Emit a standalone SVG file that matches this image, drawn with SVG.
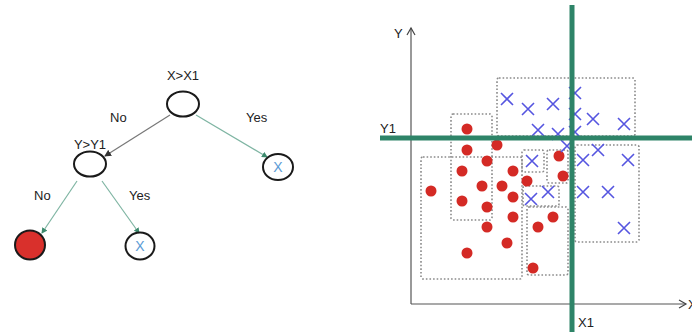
<svg xmlns="http://www.w3.org/2000/svg" width="692" height="332" viewBox="0 0 692 332">
<style>
text{font-family:"Liberation Sans",Arial,sans-serif;fill:#222}
.lbl{font-size:13px}
.node{fill:#fff;stroke:#1a1a1a;stroke-width:2}
.xin{font-size:14px;fill:#5b9bd5;text-anchor:middle}
.edge{fill:none;stroke:#7fb5a3;stroke-width:1.2}
.box{fill:none;stroke:#8a8a8a;stroke-width:1.6;stroke-dasharray:1.6 2}
.dot{fill:#d42a25}
.cross{stroke:#5555e0;stroke-width:1.6;fill:none}
.split{stroke:#2e8468;stroke-width:5}
.axis{stroke:#555;stroke-width:1.2;fill:none}
</style>
<defs>
<marker id="ag" markerWidth="6" markerHeight="6" refX="5" refY="3" orient="auto" markerUnits="userSpaceOnUse">
<path d="M0,0 L6,3 L0,6 z" fill="#3d8a6e"/>
</marker>
<marker id="ak" markerWidth="7" markerHeight="7" refX="6" refY="3.5" orient="auto" markerUnits="userSpaceOnUse">
<path d="M0,0 L7,3.5 L0,7 z" fill="#333"/>
</marker>
<marker id="ax" markerWidth="10" markerHeight="10" refX="8" refY="5" orient="auto" markerUnits="userSpaceOnUse">
<path d="M1,1 L8,5 L1,9" fill="none" stroke="#444" stroke-width="1.2"/>
</marker>
<g id="xm"><path d="M-6,-6 L6,6 M-6,6 L6,-6"/></g>
</defs>

<g id="connectors">
<line x1="170" y1="115" x2="105" y2="156" stroke="#777" stroke-width="1.2" marker-end="url(#ak)"/>
<line class="edge" x1="196" y1="115" x2="267" y2="157" marker-end="url(#ag)"/>
<line class="edge" x1="77" y1="181" x2="42" y2="233" marker-end="url(#ag)"/>
<line class="edge" x1="102" y1="181" x2="139" y2="233" marker-end="url(#ag)"/>
</g>
<text class="lbl" x="110" y="122">No</text>
<text class="lbl" x="246" y="122">Yes</text>
<text class="lbl" x="34" y="200">No</text>
<text class="lbl" x="129" y="200">Yes</text>

<g id="root">
<ellipse class="node" cx="183" cy="104" rx="16" ry="12.5"/>
<text class="lbl" x="183" y="80" text-anchor="middle">X&gt;X1</text>
</g>
<g id="n-y">
<ellipse class="node" cx="90" cy="164" rx="16" ry="12.5"/>
<text class="lbl" x="90" y="149" text-anchor="middle">Y&gt;Y1</text>
</g>
<g id="leaf-x1">
<ellipse class="node" cx="278" cy="167" rx="15" ry="13"/>
<text class="xin" x="278" y="172">X</text>
</g>
<g id="leaf-red">
<ellipse cx="30" cy="245" rx="15" ry="14.5" fill="#d9302c" stroke="#1a1a1a" stroke-width="2"/>
</g>
<g id="leaf-x2">
<ellipse class="node" cx="140" cy="246" rx="14.5" ry="13.5"/>
<text class="xin" x="140" y="251">X</text>
</g>

<g id="plot">
<line class="axis" x1="411" y1="304" x2="411" y2="28" marker-end="url(#ax)"/>
<line class="axis" x1="411" y1="304" x2="686" y2="304" marker-end="url(#ax)"/>
<text class="lbl" x="394" y="38">Y</text>
<text class="lbl" x="688" y="309">X</text>

<rect class="box" x="497" y="78" width="138" height="58" rx="2"/>
<rect class="box" x="451" y="114" width="41" height="106" rx="2"/>
<rect class="box" x="421" y="157" width="101" height="122" rx="2"/>
<rect class="box" x="575" y="145" width="64" height="97" rx="2"/>
<rect class="box" x="522" y="150" width="22" height="22" rx="2"/>
<rect class="box" x="547" y="150" width="21" height="33" rx="2"/>
<rect class="box" x="523" y="186" width="36" height="20" rx="2"/>
<rect class="box" x="527" y="207" width="41" height="68" rx="2"/>

<g class="dot">
<circle cx="467" cy="129" r="5.5"/><circle cx="467" cy="150" r="5.5"/><circle cx="497" cy="145" r="5.5"/>
<circle cx="487" cy="161" r="5.5"/><circle cx="462" cy="171" r="5.5"/><circle cx="513" cy="171" r="5.5"/>
<circle cx="482" cy="186" r="5.5"/><circle cx="502" cy="186" r="5.5"/><circle cx="513" cy="197" r="5.5"/>
<circle cx="527" cy="181" r="5.5"/><circle cx="462" cy="201" r="5.5"/><circle cx="487" cy="207" r="5.5"/>
<circle cx="513" cy="217" r="5.5"/><circle cx="487" cy="227" r="5.5"/><circle cx="431" cy="191" r="5.5"/>
<circle cx="507" cy="243" r="5.5"/><circle cx="467" cy="253" r="5.5"/><circle cx="538" cy="227" r="5.5"/>
<circle cx="553" cy="217" r="5.5"/><circle cx="559" cy="156" r="5.5"/><circle cx="563" cy="176" r="5.5"/>
<circle cx="533" cy="268" r="5.5"/>
</g>
<g class="cross">
<use href="#xm" x="507" y="99"/><use href="#xm" x="528" y="109"/><use href="#xm" x="553" y="104"/>
<use href="#xm" x="575" y="93"/><use href="#xm" x="575" y="114"/><use href="#xm" x="593" y="119"/>
<use href="#xm" x="624" y="124"/><use href="#xm" x="538" y="130"/><use href="#xm" x="558" y="134"/>
<use href="#xm" x="575" y="132"/><use href="#xm" x="567" y="146"/><use href="#xm" x="598" y="150"/>
<use href="#xm" x="583" y="160"/><use href="#xm" x="628" y="160"/><use href="#xm" x="532" y="161"/>
<use href="#xm" x="583" y="192"/><use href="#xm" x="608" y="192"/><use href="#xm" x="624" y="228"/>
<use href="#xm" x="548" y="192"/><use href="#xm" x="531" y="199"/>
</g>

<line class="split" x1="380" y1="138" x2="692" y2="138"/>
<line class="split" x1="572" y1="5" x2="572" y2="332"/>
<text class="lbl" x="380" y="133">Y1</text>
<text class="lbl" x="578" y="327">X1</text>
</g>
</svg>
